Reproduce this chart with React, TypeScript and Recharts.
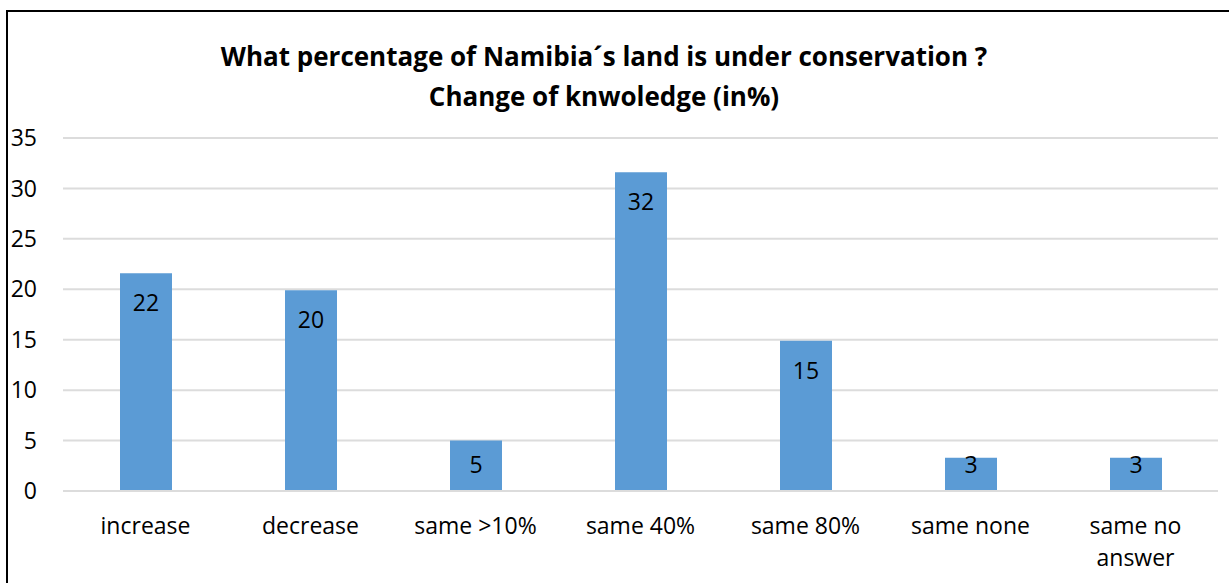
import React from 'react';
import { BarChart, Bar, XAxis, YAxis, CartesianGrid, LabelList } from 'recharts';

const categories = ['increase', 'decrease', 'same >10%', 'same 40%', 'same 80%', 'same none', 'same no answer'];
const values = [21.6, 19.9, 5, 31.6, 14.9, 3.3, 3.3];
const valueLabels = ['22', '20', '5', '32', '15', '3', '3'];
const yTicks = [0, 5, 10, 15, 20, 25, 30, 35];
const titleLines = ['What percentage of Namibia´s land is under conservation ?', 'Change of knwoledge (in%)'];

const data = categories.map((c, i) => ({ name: c, value: values[i], label: valueLabels[i] }));

const FONT = '"Open Sans", sans-serif';

// crude word wrap, Excel breaks the long category into two lines
const wrap = (s: string, max = 10) => {
  const lines: string[] = [];
  let cur = '';
  s.split(' ').forEach((w) => {
    const next = cur ? cur + ' ' + w : w;
    if (next.length > max && cur) {
      lines.push(cur);
      cur = w;
    } else cur = next;
  });
  if (cur) lines.push(cur);
  return lines;
};

const XTick = (props: any) => {
  const { x, y, payload } = props;
  const lines = wrap(String(payload.value));
  return (
    <text x={x} y={y + 43} textAnchor="middle" fontSize={23} fontFamily={FONT} fill="#000">
      {lines.map((l, i) => (
        <tspan key={i} x={x} dy={i === 0 ? 0 : 32}>
          {l}
        </tspan>
      ))}
    </text>
  );
};

const BarLabel = (props: any) => {
  const { x, y, width, height, index } = props;
  const baseline = Math.min(y + 38, y + height - 18);
  return (
    <text x={x + width / 2} y={baseline} textAnchor="middle" fontSize={23} fontFamily={FONT} fill="#000">
      {valueLabels[index]}
    </text>
  );
};

export default function App() {
  return (
    <div style={{ position: 'absolute', left: 0, top: 0, width: 1229, height: 583, overflow: 'hidden', background: '#fff' }}>
      <div style={{ position: 'absolute', left: 6, top: 10, width: 1400, height: 800, border: '2px solid #000' }} />
      <div
        style={{
          position: 'absolute',
          left: 604 - 500,
          top: 36,
          width: 1000,
          textAlign: 'center',
          fontFamily: FONT,
          fontWeight: 700,
          fontSize: 26,
          lineHeight: '40px',
          color: '#000',
        }}
      >
        {titleLines.map((t) => (
          <div key={t}>{t}</div>
        ))}
      </div>
      <div style={{ position: 'absolute', left: 0, top: 0 }}>
        <BarChart width={1229} height={583} data={data} margin={{ top: 138, right: 11, bottom: 32, left: 0 }} barSize={52}>
          <CartesianGrid vertical={false} stroke="#dcdcdc" strokeWidth={2} />
          <XAxis
            dataKey="name"
            axisLine={{ stroke: '#dcdcdc', strokeWidth: 2 }}
            tickLine={false}
            tickSize={0}
            tickMargin={0}
            height={60}
            interval={0}
            tick={<XTick />}
          />
          <YAxis
            width={63}
            domain={[0, 35]}
            ticks={yTicks}
            axisLine={false}
            tickLine={false}
            tickSize={0}
            tickMargin={26}
            tick={{ fontSize: 23, fontFamily: FONT, fill: '#000' }}
          />
          <Bar dataKey="value" fill="#5B9BD5" isAnimationActive={false}>
            <LabelList dataKey="label" content={<BarLabel />} />
          </Bar>
        </BarChart>
      </div>
    </div>
  );
}
